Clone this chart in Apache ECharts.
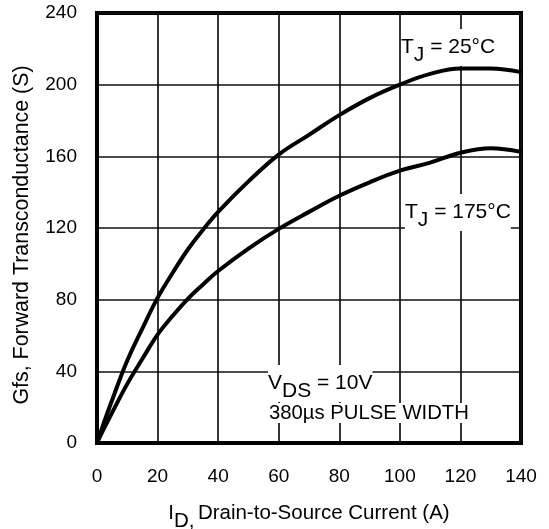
<!DOCTYPE html>
<html><head><meta charset="utf-8">
<script src="https://cdn.jsdelivr.net/npm/echarts@6/dist/echarts.min.js"></script>
<style>html,body{margin:0;padding:0;background:#fff}#c{width:549px;height:529px}</style>
</head><body><div id="c"></div>
<script>
const xTicks = [0, 20, 40, 60, 80, 100, 120, 140];
const yTicks = [0, 40, 80, 120, 160, 200, 240];
const current = [0, 2, 5, 10, 15, 20, 25, 30, 35, 40, 50, 60, 70, 80, 90, 100, 110, 120, 130, 140];
const gfs25 =  [0, 10, 24, 46, 64, 81, 95, 108, 119, 129, 146, 161, 172, 183, 192.5, 200, 206, 209, 209, 207];
const gfs175 = [0, 7, 17, 33, 47, 60.5, 71, 80.5, 88.5, 96, 108.5, 119.5, 129, 138, 145.5, 152, 156.5, 162, 164.5, 162.5];

const FONT = '"Liberation Sans", Arial, Helvetica, sans-serif';
const chart = echarts.init(document.getElementById('c'), null, {renderer: 'canvas'});
const pair = arr => current.map((x, i) => [x, arr[i]]);
const lineStyle = {color: '#000', width: 4};
const subRich = {
  t: {fontSize: 21, fontFamily: FONT, fill: '#000'},
  s: {fontSize: 21, fontFamily: FONT, fill: '#000', padding: [16, 0, 0, 0]}
};
chart.setOption({
  animation: false,
  backgroundColor: '#fff',
  grid: {left: 97, right: 28, top: 13, bottom: 86, show: true, borderColor: '#000', borderWidth: 4,
         backgroundColor: 'transparent', containLabel: false, outerBoundsMode: 'none'},
  xAxis: {
    type: 'value', min: xTicks[0], max: xTicks[xTicks.length - 1], interval: 20,
    axisLine: {show: true, lineStyle: {color: '#000', width: 4}},
    axisTick: {show: false},
    splitLine: {show: true, lineStyle: {color: '#111', width: 1.7}},
    axisLabel: {color: '#000', fontSize: 19, fontFamily: FONT, margin: 24},
    name: '{i|I}{sub|D,} {t|Drain-to-Source Current (A)}',
    nameLocation: 'middle', nameGap: 52,
    nameTextStyle: {
      rich: {
        i: {fontSize: 20.5, fontFamily: FONT, color: '#000'},
        sub: {fontSize: 20.5, fontFamily: FONT, color: '#000', padding: [16, 0, 0, 0]},
        t: {fontSize: 20.5, fontFamily: FONT, color: '#000'}
      }
    }
  },
  yAxis: {
    type: 'value', min: yTicks[0], max: yTicks[yTicks.length - 1], interval: 40,
    axisLine: {show: true, lineStyle: {color: '#000', width: 4}},
    axisTick: {show: false},
    splitLine: {show: true, lineStyle: {color: '#111', width: 1.7}},
    axisLabel: {color: '#000', fontSize: 19, fontFamily: FONT, margin: 20},
    name: 'Gfs, Forward Transconductance (S)',
    nameLocation: 'middle', nameGap: 64, nameRotate: 90,
    nameTextStyle: {color: '#000', fontSize: 21.4, fontFamily: FONT, padding: [0, 14, 0, 0]}
  },
  series: [
    {type: 'line', data: pair(gfs25), smooth: 0.4, showSymbol: false, lineStyle: lineStyle, z: 5},
    {type: 'line', data: pair(gfs175), smooth: 0.4, showSymbol: false, lineStyle: lineStyle, z: 5}
  ],
  graphic: [
    {type: 'text', left: 401, top: 29, z: 10, style: {
      text: '{t|T}{s|J}{t| = 25°C}', backgroundColor: '#fff', rich: subRich
    }},
    {type: 'text', left: 405, top: 194, z: 10, style: {
      text: '{t|T}{s|J}{t| = 175°C}', backgroundColor: '#fff', rich: subRich
    }},
    {type: 'text', left: 268, top: 365, z: 10, style: {
      text: '{t|V}{s|DS}{t| = 10V}', backgroundColor: '#fff', rich: subRich
    }},
    {type: 'text', left: 269, top: 403, z: 10, style: {
      text: '380µs PULSE WIDTH', backgroundColor: '#fff',
      fontSize: 20.3, fontFamily: FONT, fill: '#000'
    }}
  ]
});
</script></body></html>
